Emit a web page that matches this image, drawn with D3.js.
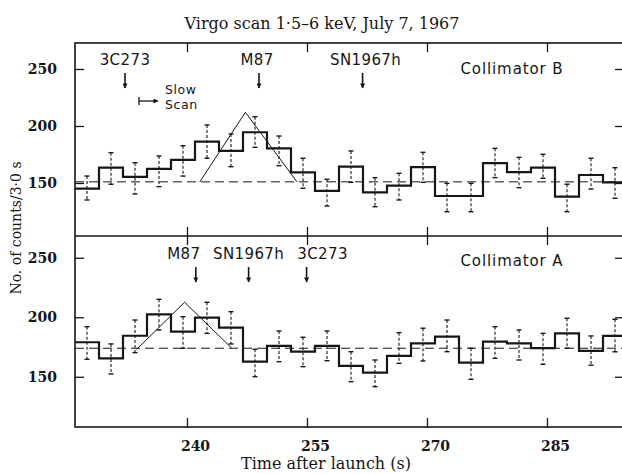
<!DOCTYPE html>
<html><head><meta charset="utf-8">
<script src="https://cdn.jsdelivr.net/npm/d3@7"></script>
<style>body{margin:0;background:#fff} svg{display:block}</style>
</head><body>
<script>
// ---- data ----
const binStarts = [226,229,232,235,238,241,244,247,250,253,256,259,262,265,268,271,274,277,280,283,286,289,292];
const binWidth = 3;

const topCounts = [145.0,163.4,155.3,162.3,170.2,186.2,178.1,194.5,180.4,159.4,143.0,164.3,141.8,147.7,164.0,138.6,138.6,167.5,159.6,163.4,138.0,157.0,150.6];
const topErrHi  = [156.1,176.6,167.8,173.7,182.7,200.9,193.0,208.2,191.2,171.7,153.2,178.1,154.7,158.5,176.9,149.7,149.7,180.4,172.5,175.2,148.9,171.7,163.4];
const topErrLo  = [135.1,148.9,140.4,146.8,156.1,171.7,164.3,181.3,165.2,145.4,129.8,150.6,129.2,135.1,150.6,124.8,124.8,154.7,145.9,154.1,124.8,144.7,136.6];
const topBase = 151;
const topModelT = [241.6,247.3,253.75];
const topModelV = [151,212,151];
const topSources = ["3C273","M87","SN1967h"];
const topSourceT = [232.25,249.0,261.95];
const topName = "Collimator B";

const botCounts = [179.0,165.5,184.5,202.5,187.9,199.7,191.3,162.7,175.9,171.1,175.9,159.1,153.5,167.5,178.1,183.7,161.9,179.5,178.1,174.0,186.5,171.7,184.3];
const botErrHi  = [192.1,177.6,197.7,215.1,200.5,212.6,204.7,173.1,188.5,183.2,188.5,171.1,164.1,187.1,190.8,197.7,174.0,192.1,189.3,186.5,199.2,184.3,198.3];
const botErrLo  = [164.7,152.4,170.3,189.3,174.0,186.5,177.6,150.1,162.7,158.5,163.5,145.9,141.7,161.3,163.3,171.1,147.9,165.5,164.1,160.5,174.0,159.7,171.0];
const botBase = 174;
const botModelT = [233.7,239.7,245.6];
const botModelV = [173,212.6,174];
const botSources = ["M87","SN1967h","3C273"];
const botSourceT = [241.1,247.7,254.95];
const botName = "Collimator A";

const xTicks = [240,255,270,285];
const yTicks = [150,200,250];

const title = "Virgo scan 1\u00b75\u20136 keV, July 7, 1967";
const xTitle = "Time after launch (s)";
const yTitle = "No. of counts/3\u00b70 s";

// ---- drawing ----
const W = 622, H = 474;
const ink = "#161616";
const serif = "'DejaVu Serif', serif";
const sans = "'DejaVu Sans', sans-serif";
const svg = d3.select("body").append("svg").attr("width", W).attr("height", H);

const x = d3.scaleLinear().domain([226, 294.625]).range([75, 624]);
const yTop = d3.scaleLinear().domain([103.5, 272.8]).range([236, 43]);
const yBot = d3.scaleLinear().domain([107.8, 268.3]).range([427, 236]);

const defs = svg.append("defs");
defs.append("clipPath").attr("id","clip")
  .append("rect").attr("x",75).attr("y",40).attr("width",549).attr("height",390);

defs.append("marker").attr("id","ar")
  .attr("viewBox","0 0 10 10").attr("refX",9).attr("refY",5)
  .attr("markerWidth",6).attr("markerHeight",5).attr("orient","auto")
  .attr("markerUnits","userSpaceOnUse")
  .append("path").attr("d","M0,0 L10,5 L0,10 Z").attr("fill",ink);

function panel(y, counts, lo, hi, base, mT, mV, srcs, srcT, name, cfg) {
  const g = svg.append("g").attr("clip-path","url(#clip)");
  // baseline
  g.append("line").attr("x1", x.range()[0]).attr("x2", x.range()[1])
    .attr("y1", y(base)).attr("y2", y(base))
    .attr("stroke", ink).attr("stroke-width", 1).attr("stroke-dasharray","9,5");
  // error bars
  const eb = g.selectAll(".eb").data(binStarts).enter().append("g");
  eb.append("line")
    .attr("x1", (d)=>x(d+binWidth/2)).attr("x2", (d)=>x(d+binWidth/2))
    .attr("y1", (d,i)=>y(hi[i])).attr("y2", (d,i)=>y(lo[i]))
    .attr("stroke", ink).attr("stroke-width", 1.1).attr("stroke-dasharray","3,2");
  eb.append("line")
    .attr("x1", (d)=>x(d+binWidth/2)-2.5).attr("x2", (d)=>x(d+binWidth/2)+2.5)
    .attr("y1", (d,i)=>y(hi[i])).attr("y2", (d,i)=>y(hi[i]))
    .attr("stroke", ink).attr("stroke-width", 1.4);
  eb.append("line")
    .attr("x1", (d)=>x(d+binWidth/2)-2.5).attr("x2", (d)=>x(d+binWidth/2)+2.5)
    .attr("y1", (d,i)=>y(lo[i])).attr("y2", (d,i)=>y(lo[i]))
    .attr("stroke", ink).attr("stroke-width", 1.4);
  // histogram
  const pts = binStarts.map((t,i)=>[t, counts[i]]);
  pts.push([binStarts[binStarts.length-1]+binWidth, counts[counts.length-1]]);
  g.append("path").datum(pts)
    .attr("d", d3.line().x(d=>x(d[0])).y(d=>y(d[1])).curve(d3.curveStepAfter))
    .attr("fill","none").attr("stroke", ink).attr("stroke-width", 2.2);
  // model triangle
  g.append("path").datum(mT.map((t,i)=>[t, mV[i]]))
    .attr("d", d3.line().x(d=>x(d[0])).y(d=>y(d[1])))
    .attr("fill","none").attr("stroke", ink).attr("stroke-width", 1);
  // source markers
  srcs.forEach((s,i)=>{
    const xx = x(srcT[i]);
    svg.append("line").attr("x1",xx).attr("x2",xx)
      .attr("y1", cfg.top + cfg.a0).attr("y2", cfg.top + cfg.a1)
      .attr("stroke", ink).attr("stroke-width", 1.6).attr("marker-end","url(#ar)");
    svg.append("text").attr("x", xx + (cfg.dx[i]||0)).attr("y", cfg.top + cfg.lb)
      .attr("text-anchor","middle").attr("font-family", sans).attr("font-size", 15)
      .attr("letter-spacing", 0.4).attr("fill", ink).text(s);
  });
  svg.append("text").attr("x", 512).attr("y", cfg.top + cfg.nb)
    .attr("text-anchor","middle").attr("font-family", sans).attr("font-size", 15)
    .attr("letter-spacing", 0.9).attr("fill", ink).text(name);
  // y axes
  const ax = d3.axisLeft(y).tickValues(yTicks).tickSizeInner(-9).tickSizeOuter(0).tickPadding(18);
  const ga = svg.append("g").attr("transform","translate(75,0)").call(ax);
  ga.select(".domain").remove();
  ga.selectAll("line").attr("stroke", ink).attr("stroke-width", 1.3);
  ga.selectAll("text").attr("font-family", serif).attr("font-size", 14).attr("font-weight","bold").attr("fill", ink);
  const ar = d3.axisLeft(y).tickValues(yTicks).tickSizeInner(9).tickSizeOuter(0).tickFormat("");
  const gr = svg.append("g").attr("transform","translate(624,0)").call(ar);
  gr.select(".domain").remove();
  gr.selectAll("line").attr("stroke", ink).attr("stroke-width", 1.3);
}

panel(yTop, topCounts, topErrLo, topErrHi, topBase, topModelT, topModelV, topSources, topSourceT, topName,
  {top: 43, a0: 30, a1: 45, lb: 21.5, nb: 30.5, dx: [0, -2, 3]});
panel(yBot, botCounts, botErrLo, botErrHi, botBase, botModelT, botModelV, botSources, botSourceT, botName,
  {top: 236, a0: 31, a1: 46, lb: 23, nb: 29.5, dx: [-12, 0, 16]});

// x-axis ticks on horizontal frame lines
function xTickLines(yy, dir) {
  const a = (dir > 0 ? d3.axisBottom(x) : d3.axisTop(x)).tickValues(xTicks).tickSizeInner(9).tickSizeOuter(0).tickFormat("");
  const g = svg.append("g").attr("transform", `translate(0,${yy})`).call(a);
  g.select(".domain").remove();
  g.selectAll("line").attr("stroke", ink).attr("stroke-width", 1.3);
}
xTickLines(43, 1);
xTickLines(236, -1);
xTickLines(236, 1);
const bx = d3.axisBottom(x).tickValues(xTicks).tickSizeInner(-9).tickSizeOuter(0).tickPadding(14);
const gbx = svg.append("g").attr("transform","translate(0,427)").call(bx);
gbx.select(".domain").remove();
gbx.selectAll("line").attr("stroke", ink).attr("stroke-width", 1.3);
gbx.selectAll("text").attr("font-family", serif).attr("font-size", 14).attr("font-weight","bold").attr("fill", ink).attr("dx", 8);

// frame
const fr = svg.append("g").attr("stroke", ink).attr("fill","none");
fr.append("rect").attr("x",75).attr("y",43).attr("width",549).attr("height",384).attr("stroke-width",1.6);
fr.append("line").attr("x1",75).attr("x2",624).attr("y1",236).attr("y2",236).attr("stroke-width",1.6);

// slow scan indicator
svg.append("line").attr("x1",139).attr("x2",139).attr("y1",97).attr("y2",105).attr("stroke",ink).attr("stroke-width",1.3);
svg.append("line").attr("x1",139).attr("x2",158).attr("y1",101).attr("y2",101).attr("stroke",ink).attr("stroke-width",1.3).attr("marker-end","url(#ar)");
svg.append("text").attr("x",165).attr("y",94).attr("font-family",sans).attr("font-size",12.5).attr("letter-spacing",0.6).attr("fill",ink).text("Slow");
svg.append("text").attr("x",165).attr("y",109).attr("font-family",sans).attr("font-size",12.5).attr("letter-spacing",0.6).attr("fill",ink).text("Scan");

// titles
svg.append("text").attr("x",322).attr("y",29).attr("text-anchor","middle")
  .attr("font-family",serif).attr("font-size",16).attr("fill",ink).text(title);
svg.append("text").attr("x",326).attr("y",469).attr("text-anchor","middle")
  .attr("font-family",serif).attr("font-size",16).attr("fill",ink).text(xTitle);
svg.append("text").attr("transform","translate(21,228) rotate(-90)").attr("text-anchor","middle")
  .attr("font-family",serif).attr("font-size",14).attr("fill",ink).text(yTitle);
</script>
</body></html>
